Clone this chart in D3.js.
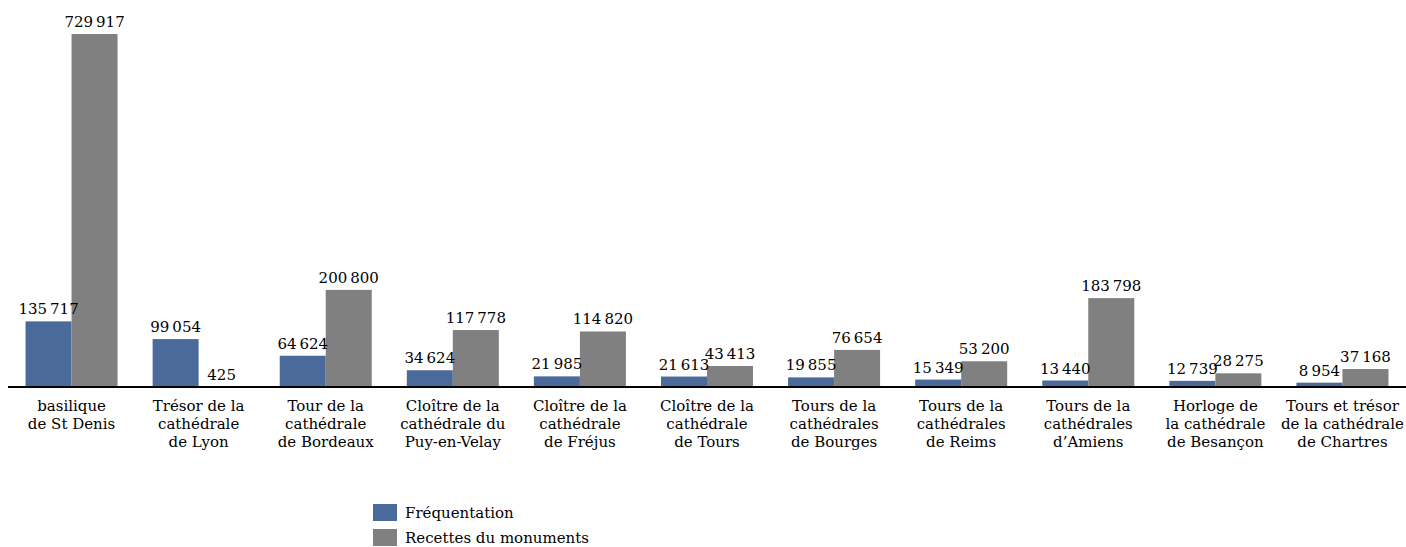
<!DOCTYPE html>
<html><head><meta charset="utf-8">
<script src="https://cdn.jsdelivr.net/npm/d3@7"></script>
<style>body{margin:0;background:#fff;} svg{display:block;}</style>
</head><body>
<svg id="c" width="1406" height="547"></svg>
<script>
const categories = [
  ["basilique","de St Denis"],
  ["Trésor de la","cathédrale","de Lyon"],
  ["Tour de la","cathédrale","de Bordeaux"],
  ["Cloître de la","cathédrale du","Puy-en-Velay"],
  ["Cloître de la","cathédrale","de Fréjus"],
  ["Cloître de la","cathédrale","de Tours"],
  ["Tours de la","cathédrales","de Bourges"],
  ["Tours de la","cathédrales","de Reims"],
  ["Tours de la","cathédrales","d’Amiens"],
  ["Horloge de","la cathédrale","de Besançon"],
  ["Tours et trésor","de la cathédrale","de Chartres"]
];
const frequentation = [135717, 99054, 64624, 34624, 21985, 21613, 19855, 15349, 13440, 12739, 8954];
const recettes = [729917, 425, 200800, 117778, 114820, 43413, 76654, 53200, 183798, 28275, 37168];
const seriesNames = ["Fréquentation", "Recettes du monuments"];
const colors = ["#4A6A9C", "#808080"];
const FONT = "'DejaVu Serif', serif";
const FS = 15;

const svg = d3.select("#c");
const x0 = 8, x1 = 1406, yBase = 387, yTop = 34;
const fmt = v => d3.format(",")(v).replace(/,/g, "\u2009");

const x = d3.scaleBand().domain(d3.range(categories.length)).range([x0, x1]).paddingInner(0.276).paddingOuter(0.138);
const xs = d3.scaleBand().domain([0,1]).range([0, x.bandwidth()]);
const y = d3.scaleLinear().domain([0, 729917]).range([yBase, yTop]);

const data = categories.map((c,i)=>({i, vals:[frequentation[i], recettes[i]]}));

const g = svg.selectAll("g.cat").data(data).enter().append("g").attr("class","cat")
  .attr("transform", d=>`translate(${x(d.i)},0)`);

g.selectAll("rect").data(d=>d.vals.map((v,k)=>({v,k}))).enter().append("rect")
  .attr("x", d=>xs(d.k)).attr("width", xs.bandwidth())
  .attr("y", d=>y(d.v)).attr("height", d=>yBase - y(d.v))
  .attr("fill", d=>colors[d.k]);

g.selectAll("text.val").data(d=>d.vals.map((v,k)=>({v,k}))).enter().append("text").attr("class","val")
  .attr("x", d=>xs(d.k)+xs.bandwidth()/2).attr("y", d=>y(d.v)-7)
  .attr("text-anchor","middle").attr("font-family",FONT).attr("font-size",FS)
  .text(d=>fmt(d.v));

// axis
const axis = d3.axisBottom(x).tickSize(0).tickFormat("");
const ag = svg.append("g").attr("transform",`translate(0,${yBase})`).call(axis);
ag.select(".domain").attr("stroke","#000").attr("stroke-width",2).attr("d",`M${x0},0H${x1}`);

svg.selectAll("text.cl").data(data).enter().append("text").attr("class","cl")
  .attr("text-anchor","middle").attr("font-family",FONT).attr("font-size",FS)
  .attr("transform", d=>`translate(${x(d.i)+x.bandwidth()/2},${yBase+24})`)
  .each(function(d){
    const t = d3.select(this);
    categories[d.i].forEach((line,j)=>t.append("tspan").attr("x",0).attr("y",j*18).text(line));
  });

// legend
const lg = svg.append("g").attr("transform","translate(373,504)");
seriesNames.forEach((n,k)=>{
  lg.append("rect").attr("x",0).attr("y",k*25).attr("width",24).attr("height",17).attr("fill",colors[k]);
  lg.append("text").attr("x",32).attr("y",k*25+14).attr("font-family",FONT).attr("font-size",FS).text(n);
});
</script>
</body></html>
